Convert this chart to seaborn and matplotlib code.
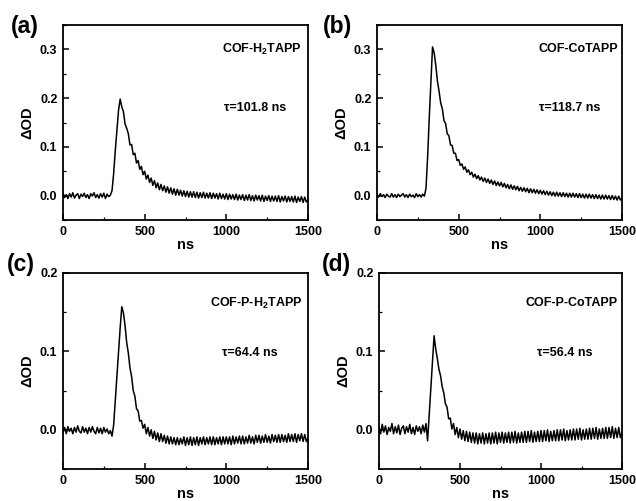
import numpy as np
import pandas as pd
import matplotlib
matplotlib.use("Agg")
import matplotlib.pyplot as plt
from matplotlib.ticker import MultipleLocator, FormatStrFormatter
import seaborn as sns

# time axis (ns), 10 ns steps
time_ns = np.arange(0, 1501, 10)

dod_a = [
    0.005,-0.004,0.002,-0.006,0.004,-0.003,0.006,-0.005,0.001,0.004,
    -0.006,0.003,-0.002,0.005,-0.004,0.002,-0.006,0.004,-0.001,0.006,
    -0.004,0.002,-0.005,0.004,-0.003,0.005,-0.006,0.003,-0.002,0.001,
    0.010,0.045,0.092,0.133,0.175,0.198,0.182,0.172,0.147,0.138,
    0.127,0.104,0.105,0.084,0.087,0.067,0.072,0.054,0.060,0.043,
    0.050,0.034,0.042,0.027,0.036,0.021,0.031,0.016,0.026,0.012,
    0.023,0.010,0.020,0.007,0.018,0.005,0.016,0.003,0.014,0.001,
    0.013,0.001,0.011,-0.001,0.010,-0.002,0.009,-0.003,0.008,-0.003,
    0.008,-0.004,0.007,-0.005,0.006,-0.004,0.007,-0.005,0.005,-0.005,
    0.006,-0.006,0.005,-0.005,0.004,-0.007,0.005,-0.006,0.003,-0.007,
    0.004,-0.008,0.003,-0.007,0.002,-0.008,0.003,-0.009,0.001,-0.008,
    0.002,-0.010,0.001,-0.009,0.002,-0.010,0.000,-0.011,0.001,-0.009,
    0.000,-0.011,0.001,-0.012,-0.001,-0.010,0.000,-0.012,-0.001,-0.011,
    -0.001,-0.012,0.000,-0.013,-0.002,-0.011,-0.001,-0.013,-0.002,-0.012,
    -0.002,-0.013,-0.001,-0.014,-0.003,-0.012,-0.002,-0.014,-0.003,-0.013,-0.008,
]

dod_b = [
    0.003,-0.003,0.004,-0.002,0.002,-0.004,0.003,-0.001,-0.003,0.004,
    -0.003,0.002,-0.004,0.003,-0.002,0.001,0.004,-0.003,0.002,-0.004,
    0.003,-0.002,0.001,-0.004,0.004,-0.002,0.002,-0.003,0.003,-0.001,
    0.015,0.080,0.160,0.232,0.305,0.293,0.267,0.235,0.214,0.190,
    0.178,0.154,0.148,0.127,0.123,0.104,0.103,0.087,0.087,0.072,
    0.074,0.062,0.065,0.054,0.059,0.048,0.053,0.043,0.048,0.038,
    0.044,0.035,0.041,0.032,0.038,0.029,0.036,0.027,0.034,0.025,
    0.032,0.023,0.030,0.021,0.028,0.020,0.027,0.018,0.025,0.016,
    0.023,0.014,0.022,0.013,0.020,0.012,0.019,0.010,0.017,0.009,
    0.016,0.008,0.015,0.006,0.014,0.006,0.013,0.005,0.012,0.004,
    0.011,0.003,0.010,0.002,0.009,0.001,0.008,0.000,0.007,-0.001,
    0.007,-0.001,0.006,-0.002,0.006,-0.002,0.005,-0.003,0.005,-0.003,
    0.005,-0.003,0.004,-0.004,0.004,-0.004,0.003,-0.005,0.003,-0.005,
    0.003,-0.005,0.002,-0.006,0.002,-0.006,0.001,-0.007,0.001,-0.007,
    0.001,-0.007,0.000,-0.008,0.000,-0.008,-0.001,-0.009,-0.001,-0.009,-0.005,
]

dod_c = [
    -0.004,0.003,-0.005,0.004,-0.002,0.002,-0.005,0.003,-0.003,0.005,
    -0.002,-0.004,0.004,-0.003,0.002,-0.005,0.003,-0.003,0.004,-0.002,
    -0.005,0.003,-0.004,0.002,-0.005,0.003,-0.003,0.001,-0.005,-0.001,
    -0.008,0.006,0.036,0.068,0.099,0.130,0.157,0.149,0.133,0.111,
    0.098,0.079,0.068,0.050,0.043,0.027,0.024,0.011,0.012,0.002,
    0.007,-0.005,0.003,-0.008,0.000,-0.011,-0.002,-0.013,-0.004,-0.015,
    -0.005,-0.015,-0.007,-0.017,-0.008,-0.018,-0.009,-0.018,-0.010,-0.019,
    -0.010,-0.019,-0.011,-0.018,-0.009,-0.020,-0.010,-0.019,-0.009,-0.020,
    -0.010,-0.019,-0.009,-0.020,-0.010,-0.018,-0.009,-0.019,-0.010,-0.018,
    -0.009,-0.019,-0.009,-0.019,-0.010,-0.018,-0.009,-0.019,-0.009,-0.018,
    -0.009,-0.018,-0.009,-0.019,-0.008,-0.018,-0.009,-0.017,-0.008,-0.018,
    -0.008,-0.018,-0.009,-0.017,-0.007,-0.017,-0.009,-0.018,-0.007,-0.016,
    -0.007,-0.017,-0.008,-0.016,-0.006,-0.016,-0.008,-0.017,-0.006,-0.015,
    -0.007,-0.016,-0.006,-0.016,-0.006,-0.015,-0.007,-0.016,-0.005,-0.015,
    -0.006,-0.015,-0.005,-0.016,-0.006,-0.014,-0.005,-0.015,-0.006,-0.015,-0.010,
]

dod_d = [
    0.004,-0.005,0.007,-0.003,0.005,-0.006,0.003,-0.002,0.008,-0.005,
    0.004,-0.004,0.006,-0.006,0.002,0.005,-0.005,0.004,-0.003,0.007,
    -0.005,0.003,-0.006,0.005,-0.002,0.004,-0.005,0.006,-0.003,0.008,
    -0.014,0.020,0.055,0.090,0.120,0.103,0.091,0.077,0.069,0.055,
    0.047,0.033,0.029,0.014,0.015,0.001,0.008,-0.006,0.003,-0.010,
    0.001,-0.012,-0.001,-0.014,-0.002,-0.015,-0.003,-0.016,-0.004,-0.017,
    -0.004,-0.018,-0.005,-0.017,-0.004,-0.018,-0.005,-0.017,-0.004,-0.018,
    -0.004,-0.017,-0.003,-0.018,-0.004,-0.016,-0.003,-0.017,-0.004,-0.016,
    -0.003,-0.017,-0.003,-0.016,-0.002,-0.017,-0.004,-0.016,-0.003,-0.016,
    -0.002,-0.016,-0.002,-0.015,-0.001,-0.016,-0.003,-0.015,-0.002,-0.015,
    -0.001,-0.015,-0.001,-0.014,0.000,-0.015,-0.002,-0.014,-0.001,-0.014,
    0.000,-0.014,0.000,-0.013,0.001,-0.014,-0.001,-0.013,0.000,-0.013,
    0.001,-0.013,0.001,-0.012,0.002,-0.013,0.000,-0.012,0.001,-0.012,
    0.002,-0.012,0.002,-0.011,0.003,-0.012,0.001,-0.011,0.002,-0.011,
    0.003,-0.011,0.003,-0.010,0.004,-0.011,0.002,-0.010,0.003,-0.010,-0.003,
]

panel_letters = ["(a)", "(b)", "(c)", "(d)"]
sample_names = ["COF-H$_\\mathbf{2}$TAPP", "COF-CoTAPP", "COF-P-H$_\\mathbf{2}$TAPP", "COF-P-CoTAPP"]
lifetimes = ["τ=101.8 ns", "τ=118.7 ns", "τ=64.4 ns", "τ=56.4 ns"]
series = [dod_a, dod_b, dod_c, dod_d]
ylims = [(-0.05, 0.35), (-0.05, 0.35), (-0.05, 0.2), (-0.05, 0.2)]

sns.set_style("ticks")
plt.rcParams["font.family"] = ["Liberation Sans", "DejaVu Sans"]
plt.rcParams["font.weight"] = "bold"
plt.rcParams["text.color"] = "black"
plt.rcParams["axes.labelcolor"] = "black"
plt.rcParams["xtick.color"] = "black"
plt.rcParams["ytick.color"] = "black"
plt.rcParams["axes.edgecolor"] = "black"
plt.rcParams["mathtext.fontset"] = "custom"
plt.rcParams["mathtext.rm"] = "Liberation Sans:bold"
plt.rcParams["mathtext.bf"] = "Liberation Sans:bold"
plt.rcParams["mathtext.it"] = "Liberation Sans:bold"

fig = plt.figure(figsize=(6.36, 5.01), dpi=100)

# axes rectangles [left, bottom, width, height] in figure fraction
rects = [
    [63/636, 1-220/501, 245/636, 195/501],
    [377/636, 1-220/501, 245/636, 195/501],
    [63/636, 1-469/501, 245/636, 196/501],
    [379/636, 1-469/501, 243/636, 196/501],
]
name_pos = [(0.975, 0.877), (0.983, 0.877), (0.975, 0.847), (0.983, 0.847)]
tau_pos = [(0.786, 0.574), (0.788, 0.574), (0.763, 0.593), (0.763, 0.593)]
letter_pos = [(11, 27), (323, 27), (7, 265), (322, 265)]

for i in range(4):
    ax = fig.add_axes(rects[i])
    df = pd.DataFrame({"t": time_ns, "dod": series[i]})
    sns.lineplot(data=df, x="t", y="dod", ax=ax, color="black", linewidth=1.1)
    ax.set_xlim(0, 1500)
    ax.set_ylim(*ylims[i])
    ax.xaxis.set_major_locator(MultipleLocator(500))
    ax.xaxis.set_minor_locator(MultipleLocator(250))
    ax.yaxis.set_major_locator(MultipleLocator(0.1))
    ax.yaxis.set_minor_locator(MultipleLocator(0.05))
    ax.yaxis.set_major_formatter(FormatStrFormatter("%.1f"))
    ax.tick_params(which="major", direction="in", length=4, width=1.1,
                   labelsize=9, pad=4, colors="black")
    ax.tick_params(which="minor", direction="in", length=2.2, width=0.9, colors="black")
    for lab in ax.get_xticklabels() + ax.get_yticklabels():
        lab.set_fontweight("bold")
    for sp in ax.spines.values():
        sp.set_visible(True)
        sp.set_linewidth(1.3)
        sp.set_color("black")
    ax.set_xlabel("ns", fontsize=10.5, fontweight="bold", labelpad=0)
    ax.set_ylabel("ΔOD", fontsize=10.5, fontweight="bold", labelpad=4)
    ax.text(*name_pos[i], sample_names[i], transform=ax.transAxes, ha="right",
            va="center", fontsize=9, fontweight="bold")
    ax.text(*tau_pos[i], lifetimes[i], transform=ax.transAxes, ha="center",
            va="center", fontsize=9, fontweight="bold")
    lx, ly = letter_pos[i]
    fig.text(lx/636, 1-ly/501, panel_letters[i], ha="left", va="center",
             fontsize=16.5, fontweight="bold")

fig.savefig("out.png", dpi=100, facecolor="white")
